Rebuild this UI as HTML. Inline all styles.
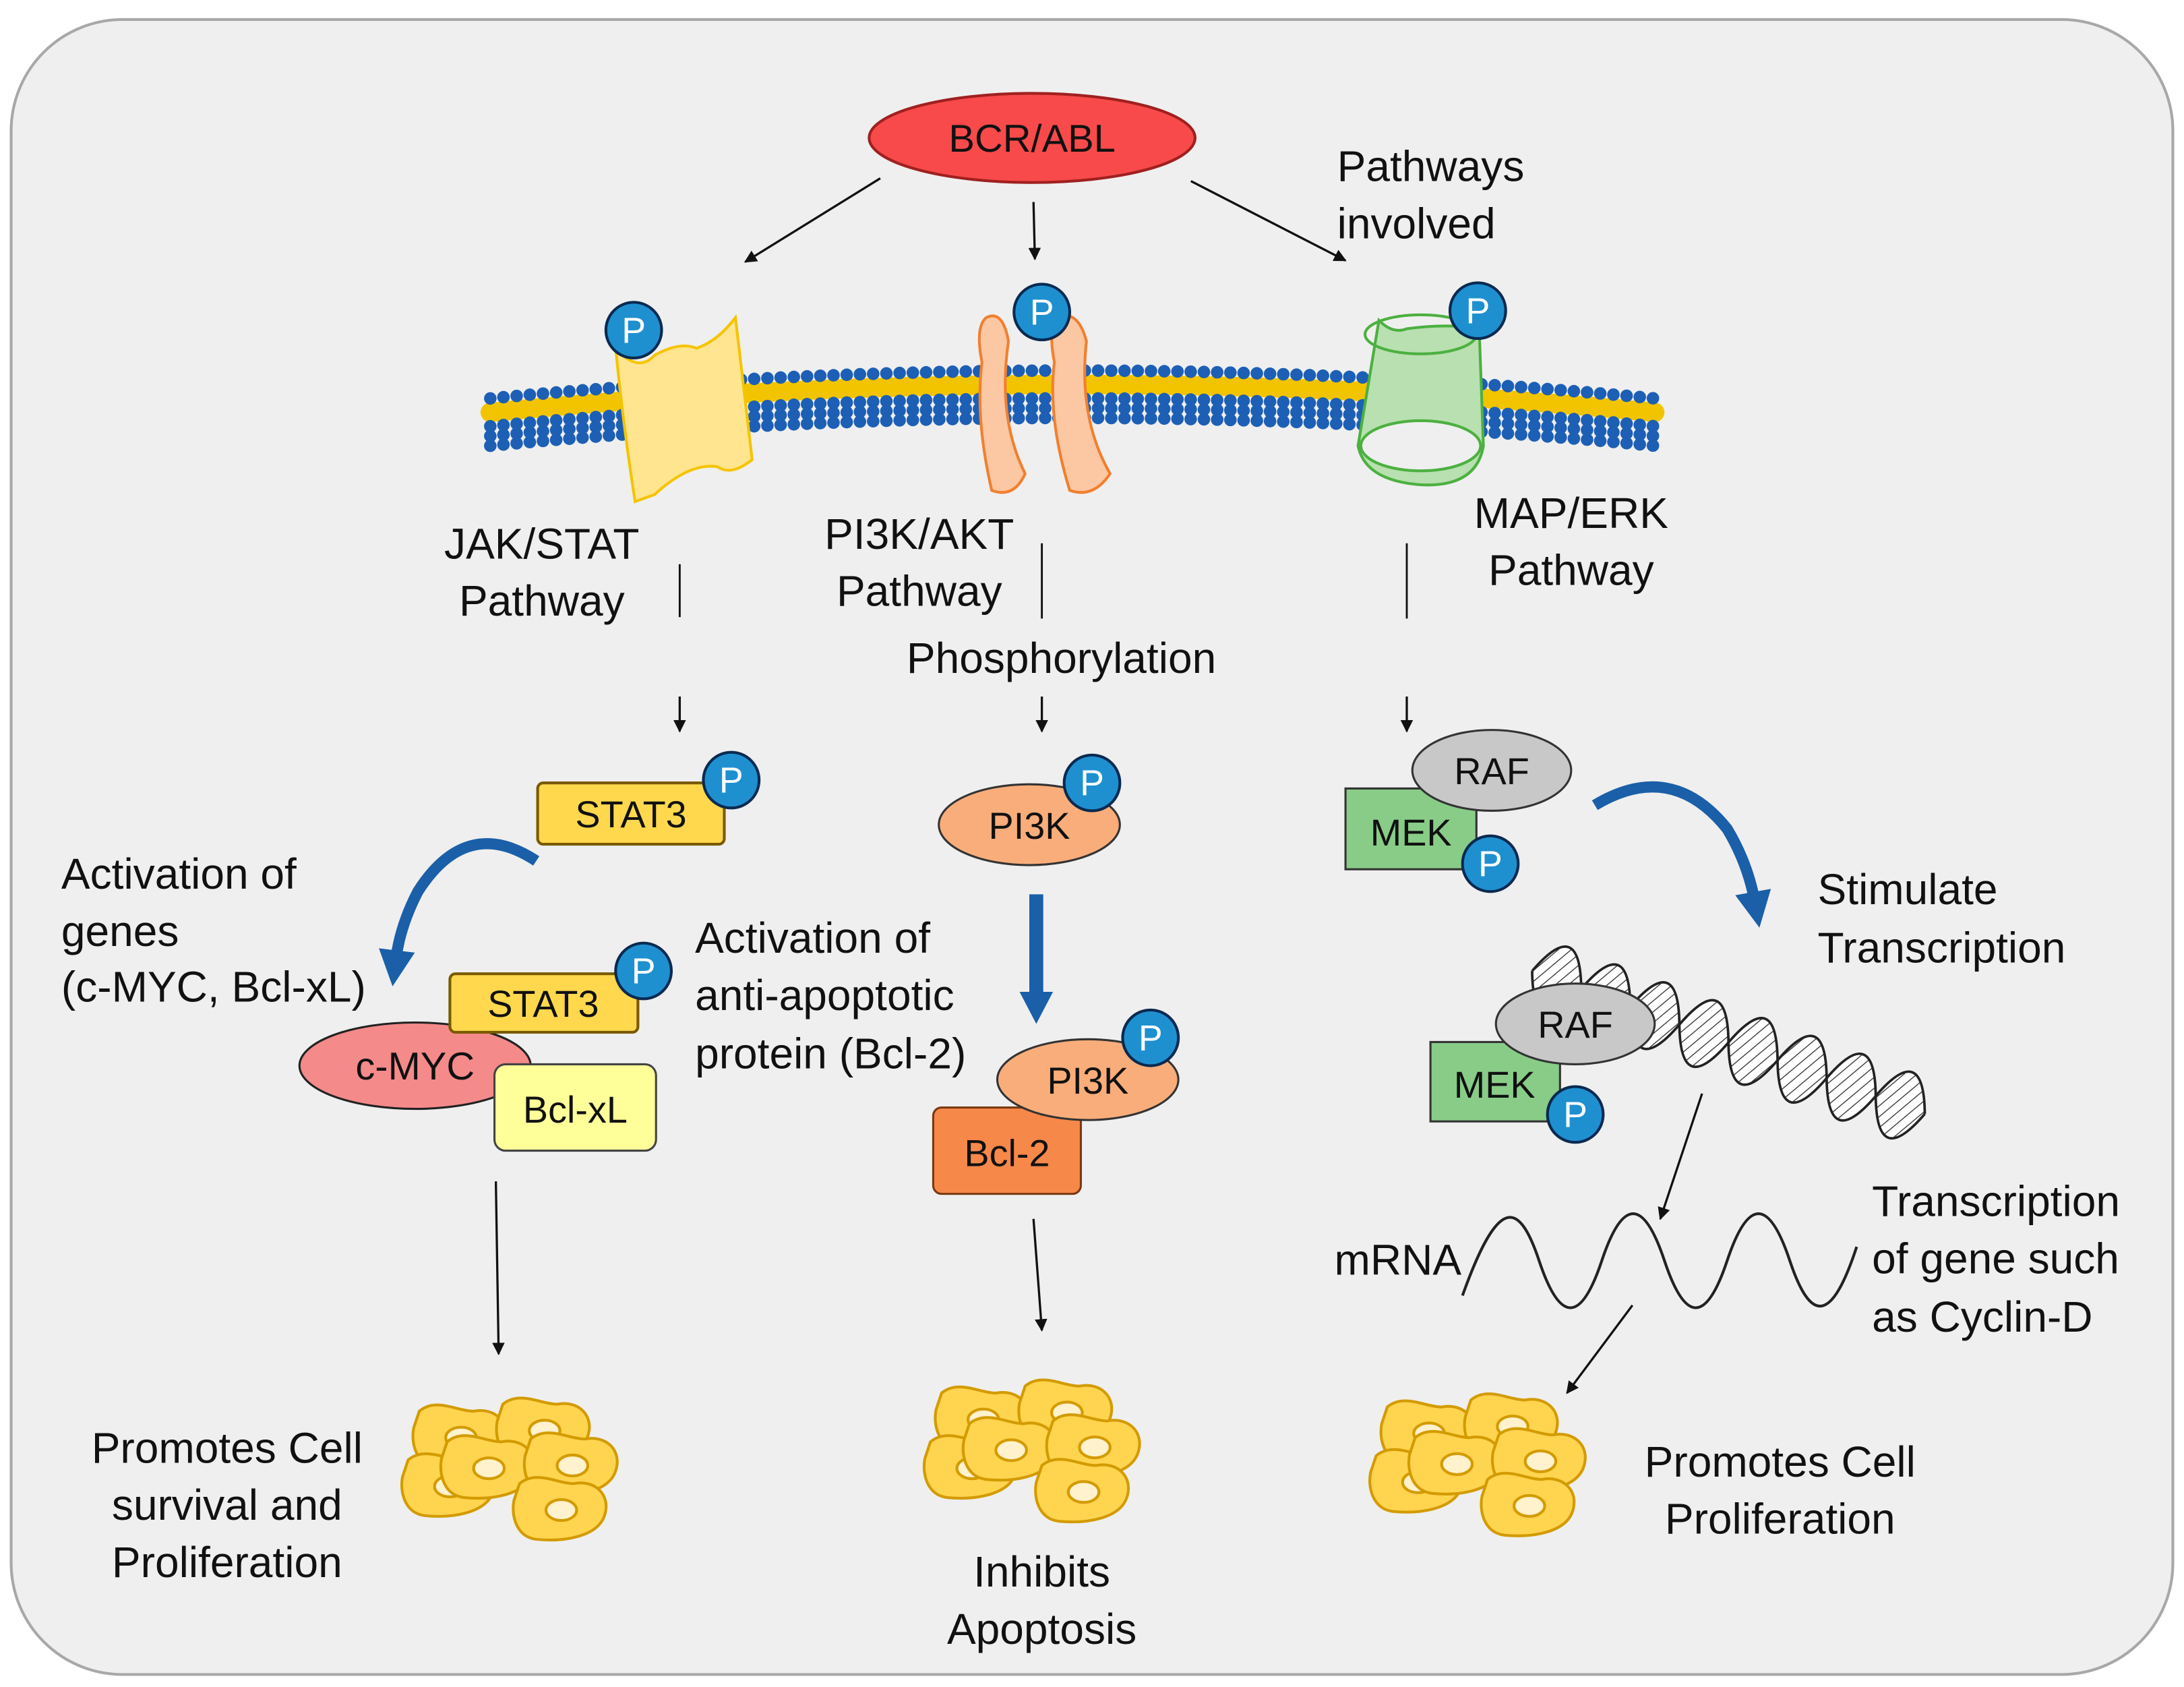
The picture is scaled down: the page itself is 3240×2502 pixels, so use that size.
<!DOCTYPE html>
<html><head><meta charset="utf-8"><style>
html,body{margin:0;padding:0;background:#fff;}
svg{display:block;}
text{font-family:"Liberation Sans",sans-serif;fill:#111;}
</style></head><body>
<svg width="3240" height="2502" viewBox="0 0 1568 1211" preserveAspectRatio="none" xmlns="http://www.w3.org/2000/svg">
<defs>
<marker id="ah" viewBox="0 0 10 10" refX="9" refY="5" markerWidth="9" markerHeight="9" orient="auto" markerUnits="userSpaceOnUse"><path d="M0,0 L10,5 L0,10 Z" fill="#111"/></marker>
<marker id="bh" viewBox="0 0 10 10" refX="3" refY="5" markerWidth="26" markerHeight="26" orient="auto" markerUnits="userSpaceOnUse"><path d="M0,0 L10,5 L0,10 Z" fill="#1a5fa8"/></marker>
<pattern id="hatch" width="6" height="6" patternUnits="userSpaceOnUse" patternTransform="rotate(30)"><rect width="6" height="6" fill="#fff"/><line x1="0" y1="0" x2="0" y2="6" stroke="#333" stroke-width="1.3"/></pattern>
<g id="cell"><path d="M8,8 C20,-2 35,8 47,8 C62,5 74,16 69,31 C64,46 40,50 20,48 C5,46 2,30 4,20 Z" fill="#ffd44f" stroke="#d39b00" stroke-width="2"/><ellipse cx="38" cy="27" rx="11" ry="7.5" fill="#fff2cc" stroke="#d39b00" stroke-width="2"/></g>
<g id="clus">
<use href="#cell" x="8" y="10"/><use href="#cell" x="68" y="5"/><use href="#cell" x="0" y="45"/><use href="#cell" x="28" y="32"/><use href="#cell" x="88" y="30"/><use href="#cell" x="80" y="62"/>
</g>
<g id="pp"><circle r="20" fill="#1e90d0" stroke="#0a2a50" stroke-width="2"/><text y="9" text-anchor="middle" font-size="26" style="fill:#fff">P</text></g>
</defs>
<rect x="8" y="14" width="1552" height="1188" rx="80" fill="#efefef" stroke="#a8a8a8" stroke-width="2"/>

<!-- BCR/ABL -->
<ellipse cx="741" cy="99" rx="117" ry="32" fill="#f84a4a" stroke="#a02020" stroke-width="2"/>
<text x="741" y="109" text-anchor="middle" font-size="28">BCR/ABL</text>
<g stroke="#111" stroke-width="1.6" fill="none" marker-end="url(#ah)">
<line x1="632" y1="128" x2="535" y2="188"/><line x1="742" y1="145" x2="743" y2="186"/><line x1="855" y1="130" x2="966" y2="187"/>
<line x1="488" y1="500" x2="488" y2="525"/><line x1="748" y1="500" x2="748" y2="525"/><line x1="1010" y1="500" x2="1010" y2="525"/>
<line x1="356" y1="848" x2="358" y2="972"/><line x1="742" y1="875" x2="748" y2="955"/>
<line x1="1222" y1="785" x2="1192" y2="875"/><line x1="1172" y1="937" x2="1125" y2="1000"/>
</g>
<g stroke="#111" stroke-width="1.4"><line x1="488" y1="405" x2="488" y2="443"/><line x1="748" y1="390" x2="748" y2="444"/><line x1="1010" y1="390" x2="1010" y2="444"/></g>
<g font-size="31"><text x="960" y="130">Pathways</text><text x="960" y="171">involved</text></g>

<!-- membrane -->
<g fill="none" stroke-linecap="round">
<path d="M352,296 Q770,256 1188,296" stroke="#f2c400" stroke-width="14" stroke-dasharray="1.2 2.5"/>
<path d="M352,286 Q770,246 1188,286" stroke="#1d5fb4" stroke-width="9" stroke-dasharray="0 9.5"/>
<path d="M352,306 Q770,266 1188,306" stroke="#1d5fb4" stroke-width="9" stroke-dasharray="0 9.5"/>
<path d="M352,313 Q770,273 1188,313" stroke="#1d5fb4" stroke-width="9" stroke-dasharray="0 9.5"/>
<path d="M352,320 Q770,280 1188,320" stroke="#1d5fb4" stroke-width="9" stroke-dasharray="0 9.5"/>
</g>
<!-- proteins -->
<path d="M442,250 Q458,268 470,255 Q488,245 500,250 Q515,245 528,228 L540,330 Q525,342 515,335 Q495,332 470,355 L456,360 Q448,310 442,250 Z" fill="#ffe590" stroke="#f5c400" stroke-width="2"/>
<path d="M708,228 Q720,222 724,245 Q716,300 736,340 Q728,358 712,352 Q700,300 705,260 Q700,235 708,228 Z" fill="#fcc7a3" stroke="#f08030" stroke-width="2"/>
<path d="M760,228 Q774,222 780,245 Q774,300 797,340 Q785,358 768,352 Q752,300 757,260 Q752,235 760,228 Z" fill="#fcc7a3" stroke="#f08030" stroke-width="2"/>
<path d="M990,230 Q1000,240 1010,236 Q1040,232 1062,236 L1065,320 Q1060,350 1020,348 Q980,345 975,320 Z" fill="#b8e0b0" stroke="#4cb040" stroke-width="2"/>
<ellipse cx="1020" cy="240" rx="40" ry="14" fill="none" stroke="#4cb040" stroke-width="2"/>
<ellipse cx="1020" cy="320" rx="43" ry="18" fill="#efefef" stroke="#4cb040" stroke-width="2"/>
<use href="#pp" x="455" y="237"/><use href="#pp" x="748" y="224"/><use href="#pp" x="1061" y="223"/>

<g font-size="31" text-anchor="middle">
<text x="389" y="401">JAK/STAT</text><text x="389" y="442">Pathway</text>
<text x="660" y="394">PI3K/AKT</text><text x="660" y="435">Pathway</text>
<text x="1128" y="379">MAP/ERK</text><text x="1128" y="420">Pathway</text>
<text x="762" y="483">Phosphorylation</text>
</g>

<!-- JAK/STAT -->
<rect x="386" y="562" width="134" height="44" rx="4" fill="#ffd84d" stroke="#7a5a00" stroke-width="2"/>
<text x="453" y="594" text-anchor="middle" font-size="27">STAT3</text>
<use href="#pp" x="525" y="560"/>
<path d="M385,618 Q335,585 300,640 Q287,665 284,690" fill="none" stroke="#1a5fa8" stroke-width="8" marker-end="url(#bh)"/>
<g font-size="31"><text x="44" y="638">Activation of</text><text x="44" y="679">genes</text><text x="44" y="719">(c-MYC, Bcl-xL)</text>
<text x="499" y="684">Activation of</text><text x="499" y="725">anti-apoptotic</text><text x="499" y="767">protein (Bcl-2)</text></g>
<ellipse cx="298" cy="765" rx="83" ry="31" fill="#f48a8a" stroke="#222" stroke-width="1.5"/>
<text x="298" y="775" text-anchor="middle" font-size="28">c-MYC</text>
<rect x="323" y="699" width="135" height="42" rx="4" fill="#ffd84d" stroke="#7a5a00" stroke-width="2"/>
<text x="390" y="730" text-anchor="middle" font-size="27">STAT3</text>
<use href="#pp" x="462" y="697"/>
<rect x="355" y="764" width="116" height="62" rx="8" fill="#ffff99" stroke="#444" stroke-width="1.5"/>
<text x="413" y="806" text-anchor="middle" font-size="27">Bcl-xL</text>

<!-- PI3K -->
<ellipse cx="739" cy="592" rx="65" ry="29" fill="#f9ad7a" stroke="#333" stroke-width="1.5"/>
<text x="739" y="602" text-anchor="middle" font-size="27">PI3K</text>
<use href="#pp" x="784" y="562"/>
<line x1="744" y1="642" x2="744" y2="715" stroke="#1a5fa8" stroke-width="10"/>
<path d="M732,712 L756,712 L744,735 Z" fill="#1a5fa8"/>
<rect x="670" y="795" width="106" height="62" rx="6" fill="#f6884a" stroke="#7a3a10" stroke-width="1.5"/>
<text x="723" y="837" text-anchor="middle" font-size="27">Bcl-2</text>
<ellipse cx="781" cy="775" rx="65" ry="29" fill="#f9ad7a" stroke="#333" stroke-width="1.5"/>
<text x="781" y="785" text-anchor="middle" font-size="27">PI3K</text>
<use href="#pp" x="826" y="745"/>

<!-- MAP/ERK -->
<rect x="966" y="566" width="94" height="58" fill="#88cc88" stroke="#333" stroke-width="1.5"/>
<ellipse cx="1071" cy="553" rx="57" ry="29" fill="#c8c8c8" stroke="#333" stroke-width="1.5"/>
<text x="1071" y="563" text-anchor="middle" font-size="27">RAF</text>
<text x="1013" y="607" text-anchor="middle" font-size="27">MEK</text>
<use href="#pp" x="1070" y="620"/>
<path d="M1145,578 Q1200,545 1240,595 Q1255,620 1260,648" fill="none" stroke="#1a5fa8" stroke-width="8" marker-end="url(#bh)"/>
<g font-size="31"><text x="1305" y="649">Stimulate</text><text x="1305" y="691">Transcription</text></g>
<!-- DNA helix -->
<g transform="translate(1100,697) rotate(20)">
<path d="M0,0 Q18.75,-50 37.5,0 T75,0 T112.5,0 T150,0 T187.5,0 T225,0 T262.5,0 T300,0 Z" fill="url(#hatch)"/>
<path d="M0,0 Q18.75,50 37.5,0 T75,0 T112.5,0 T150,0 T187.5,0 T225,0 T262.5,0 T300,0 Z" fill="url(#hatch)"/>
<path d="M0,0 Q18.75,-50 37.5,0 T75,0 T112.5,0 T150,0 T187.5,0 T225,0 T262.5,0 T300,0" fill="none" stroke="#222" stroke-width="1.8"/>
<path d="M0,0 Q18.75,50 37.5,0 T75,0 T112.5,0 T150,0 T187.5,0 T225,0 T262.5,0 T300,0" fill="none" stroke="#222" stroke-width="1.8"/>
</g>
<rect x="1027" y="748" width="93" height="57" fill="#88cc88" stroke="#333" stroke-width="1.5"/>
<ellipse cx="1131" cy="735" rx="57" ry="29" fill="#c8c8c8" stroke="#333" stroke-width="1.5"/>
<text x="1131" y="745" text-anchor="middle" font-size="27">RAF</text>
<text x="1073" y="788" text-anchor="middle" font-size="27">MEK</text>
<use href="#pp" x="1131" y="800"/>
<text x="958" y="915" font-size="31">mRNA</text>
<path d="M1050,930 C1075,860 1090,860 1105,905 C1120,950 1135,950 1150,905 C1165,860 1180,860 1195,905 C1210,950 1225,950 1240,905 C1255,860 1270,860 1285,905 C1300,950 1315,950 1333,895" fill="none" stroke="#222" stroke-width="2"/>
<g font-size="31"><text x="1344" y="873">Transcription</text><text x="1344" y="914">of gene such</text><text x="1344" y="956">as Cyclin-D</text></g>

<!-- cells -->
<use href="#clus" x="285" y="995"/><use href="#clus" x="660" y="982"/><use href="#clus" x="980" y="992"/>
<g font-size="31" text-anchor="middle">
<text x="163" y="1050">Promotes Cell</text><text x="163" y="1091">survival and</text><text x="163" y="1132">Proliferation</text>
<text x="748" y="1139">Inhibits</text><text x="748" y="1180">Apoptosis</text>
<text x="1278" y="1060">Promotes Cell</text><text x="1278" y="1101">Proliferation</text>
</g>
</svg>
</body></html>
